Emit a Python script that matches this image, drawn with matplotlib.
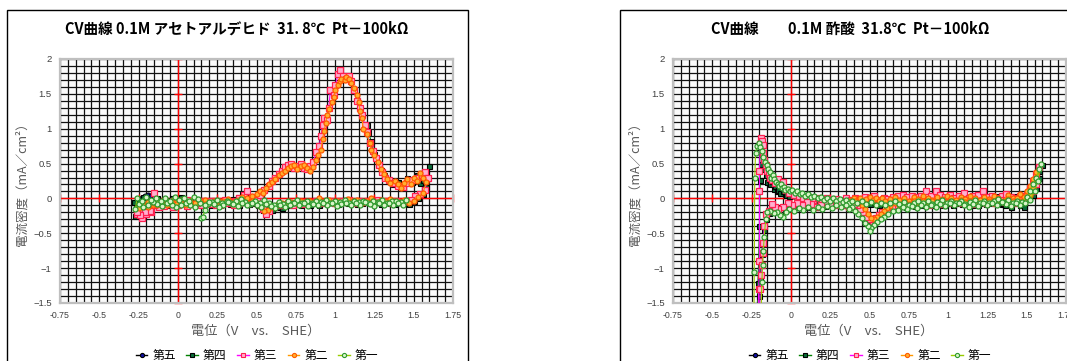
import matplotlib
matplotlib.use("Agg")
import matplotlib.pyplot as plt
from matplotlib.lines import Line2D
from matplotlib.patches import Rectangle
from matplotlib.ticker import MultipleLocator

plt.rcParams['font.family'] = ['Noto Sans CJK JP', 'DejaVu Sans']

# ---------------- data ----------------
series_names = ["第五", "第四", "第三", "第二", "第一"]
titles = ["CV曲線 0.1M アセトアルデヒド  31. 8℃  Pt－100kΩ",
          "CV曲線　　0.1M 酢酸  31.8℃  Pt－100kΩ"]
x_tick_labels = ["-0.75", "-0.5", "-0.25", "0", "0.25", "0.5", "0.75", "1", "1.25", "1.5", "1.75"]
x_tick_values = [-0.75, -0.5, -0.25, 0, 0.25, 0.5, 0.75, 1, 1.25, 1.5, 1.75]
y_tick_labels = ["−1.5", "−1", "−0.5", "0", "0.5", "1", "1.5", "2"]
y_tick_values = [-1.5, -1, -0.5, 0, 0.5, 1, 1.5, 2]
x_label = "電位（V　vs.　SHE）"
y_label = "電流密度（mA／cm²）"

# Left chart: acetaldehyde  (potential V, current mA/cm2)
acet_5 = [(-0.23, 0.01), (-0.21, 0.04), (-0.19, 0.05), (-0.17, 0.03), (-0.15, 0.02)]
acet_4 = [(1.20,1.05),(1.21,0.96),(1.23,0.82),(1.25,0.64),(1.27,0.50),(1.29,0.41),(1.31,0.33),(1.34,0.25),(1.37,0.21),(1.40,0.23),
          (1.43,0.17),(1.46,0.30),(1.49,0.24),(1.52,0.33),(1.54,0.22),(1.56,0.26),(1.58,0.38),(1.60,0.46),
          (1.58,0.16),(1.56,0.06),(1.53,0.00),(1.50,-0.04),(1.47,-0.08),(1.44,-0.07),(1.41,-0.05),(1.38,-0.08),(1.35,-0.06),(1.32,-0.04),
          (1.29,-0.08),(1.26,-0.05),(1.23,-0.07),(1.20,-0.03),(1.17,-0.06),(1.14,-0.08),(1.11,-0.05),(1.08,-0.07),(1.05,-0.04),(1.02,-0.08),
          (0.99,-0.06),(0.96,-0.04),(0.93,-0.07),(0.90,-0.09),(0.87,-0.05),(0.84,-0.10),(0.81,-0.07),(0.78,-0.09),(0.75,-0.06),(0.72,-0.10),
          (0.69,-0.08),(0.66,-0.14),(0.63,-0.12),(0.60,-0.16),(0.57,-0.13),(0.54,-0.17),(0.51,-0.10),(0.48,-0.06),(0.45,-0.08),(0.42,-0.05),
          (0.39,-0.09),(0.36,-0.06),(0.33,-0.08),(0.30,-0.04),(0.27,-0.07),(0.24,-0.05),(0.21,-0.09),(0.18,-0.06),(0.15,-0.08),(0.12,-0.04),
          (0.09,-0.07),(0.06,-0.10),(0.03,-0.05),(0.00,-0.08),(-0.03,-0.04),(-0.06,-0.09),(-0.09,-0.06),(-0.12,-0.10),(-0.15,-0.07),(-0.18,-0.12),
          (-0.21,-0.16),(-0.24,-0.22),(-0.27,-0.25),
          (-0.28,-0.05),(-0.25,-0.02),(-0.22,0.02),(-0.19,-0.03),(-0.16,-0.01),(-0.13,0.01),(-0.10,-0.03),(-0.07,-0.02),(-0.04,0.00),(-0.01,-0.04),
          (0.02,0.02),(0.05,-0.03),(0.08,-0.05),(0.11,-0.02),(0.14,-0.06),(0.17,-0.03),(0.20,-0.05),(0.23,-0.02),(0.26,-0.06),(0.29,-0.04),
          (0.32,-0.03),(0.35,-0.01),(0.38,0.02),(0.41,0.06),(0.43,0.05)]
acet_3 = [(-0.26,-0.22),(-0.23,-0.28),(-0.20,-0.22),(-0.17,-0.20),(-0.15,0.08),(-0.12,-0.05),(-0.09,-0.10),(-0.06,-0.08),(-0.03,-0.04),(0.00,-0.10),
          (0.03,-0.06),(0.06,-0.02),(0.09,-0.08),(0.12,-0.05),(0.15,-0.03),(0.18,-0.07),(0.21,-0.04),(0.24,-0.09),(0.27,-0.05),(0.30,-0.02),
          (0.33,-0.06),(0.36,-0.03),(0.39,0.00),(0.42,0.05),(0.44,0.10),(0.47,0.02),(0.50,-0.02),(0.52,0.05),(0.55,0.12),(0.58,0.18),
          (0.60,0.25),(0.62,0.30),(0.64,0.35),(0.66,0.40),(0.68,0.45),(0.70,0.48),(0.72,0.50),(0.74,0.44),(0.76,0.47),(0.78,0.50),
          (0.80,0.44),(0.82,0.42),(0.84,0.46),(0.86,0.52),(0.88,0.66),(0.90,0.75),(0.91,0.90),(0.92,1.05),(0.93,1.15),(0.95,1.12),
          (0.96,1.30),(0.97,1.55),(0.99,1.48),(1.00,1.62),(1.02,1.78),(1.03,1.84),(1.05,1.76),(1.07,1.72),(1.09,1.76),(1.10,1.68),
          (1.12,1.55),(1.14,1.40),(1.16,1.30),(1.17,1.20),(1.19,1.05),(1.20,0.95),(1.22,0.80),(1.24,0.68),(1.26,0.58),(1.28,0.48),
          (1.30,0.38),(1.32,0.30),(1.34,0.26),(1.37,0.22),(1.40,0.18),(1.43,0.16),(1.46,0.22),(1.49,0.26),(1.52,0.30),(1.55,0.34),
          (1.57,0.38),(1.59,0.30),
          (1.57,0.12),(1.54,0.06),(1.51,0.03),(1.48,-0.02),(1.45,-0.03),(1.42,-0.05),(1.39,-0.04),(1.36,-0.06),(1.33,-0.03),(1.30,-0.05),
          (1.27,-0.02),(1.24,-0.06),(1.21,-0.04),(1.18,-0.05),(1.15,-0.03),(1.12,-0.06),(1.09,-0.02),(1.06,-0.05),(1.03,-0.04),(1.00,-0.07),
          (0.97,-0.03),(0.94,-0.05),(0.91,-0.06),(0.88,-0.04),(0.85,-0.07),(0.82,-0.05),(0.79,-0.08),(0.76,-0.06),(0.73,-0.09),(0.70,-0.07),
          (0.67,-0.10),(0.64,-0.09),(0.61,-0.13),(0.58,-0.18),(0.56,-0.23),(0.54,-0.15),(0.51,-0.08),(0.48,-0.05),(0.45,-0.07),(0.42,-0.04),
          (0.39,-0.06),(0.36,-0.09),(0.33,-0.05),(0.30,-0.07),(0.27,-0.10),(0.24,-0.06),(0.21,-0.08),(0.18,-0.05),(0.15,-0.09),(0.12,-0.06),
          (0.09,-0.08),(0.06,-0.11),(0.03,-0.07),(0.00,-0.09),(-0.03,-0.12),(-0.06,-0.08),(-0.09,-0.11),(-0.12,-0.13),(-0.15,-0.10),(-0.18,-0.18),
          (-0.21,-0.20),(-0.24,-0.24),(-0.26,-0.20)]
acet_2 = [(-0.25,-0.12),(-0.22,-0.08),(-0.19,-0.05),(-0.16,-0.09),(-0.13,-0.04),(-0.10,-0.07),(-0.07,-0.03),(-0.04,-0.08),(-0.01,-0.05),(0.02,-0.02),
          (0.05,-0.07),(0.08,-0.04),(0.11,-0.09),(0.14,-0.05),(0.17,-0.02),(0.20,-0.06),(0.23,-0.03),(0.26,-0.07),(0.29,-0.04),(0.32,-0.01),
          (0.35,-0.05),(0.38,-0.02),(0.41,0.02),(0.44,0.00),(0.47,0.03),(0.50,0.06),(0.52,0.10),(0.54,0.08),(0.56,0.15),(0.58,0.20),
          (0.60,0.24),(0.62,0.28),(0.64,0.33),(0.66,0.36),(0.68,0.40),(0.70,0.43),(0.72,0.46),(0.74,0.48),(0.76,0.42),(0.78,0.46),
          (0.80,0.48),(0.82,0.43),(0.84,0.40),(0.86,0.45),(0.88,0.55),(0.89,0.62),(0.91,0.70),(0.92,0.85),(0.93,0.97),(0.94,1.08),
          (0.95,1.20),(0.96,1.28),(0.98,1.38),(0.99,1.45),(1.00,1.55),(1.02,1.62),(1.03,1.68),(1.04,1.72),(1.06,1.70),(1.07,1.74),
          (1.09,1.72),(1.10,1.66),(1.12,1.58),(1.14,1.48),(1.15,1.38),(1.16,1.25),(1.17,1.15),(1.18,1.00),(1.20,0.92),(1.22,0.80),
          (1.23,0.70),(1.25,0.62),(1.27,0.52),(1.29,0.42),(1.31,0.35),(1.33,0.28),(1.35,0.22),(1.38,0.25),(1.40,0.20),(1.42,0.15),
          (1.44,0.22),(1.46,0.28),(1.48,0.20),(1.50,0.30),(1.52,0.25),(1.54,0.36),(1.56,0.30),(1.58,0.24),
          (1.56,0.08),(1.53,0.02),(1.50,-0.03),(1.47,-0.06),(1.44,-0.02),(1.41,-0.05),(1.38,-0.03),(1.35,-0.01),(1.32,-0.04),(1.29,-0.02),
          (1.26,-0.05),(1.23,0.00),(1.20,-0.03),(1.17,-0.06),(1.14,-0.02),(1.11,-0.04),(1.08,-0.01),(1.05,-0.05),(1.02,-0.03),(0.99,-0.06),
          (0.96,-0.02),(0.93,-0.04),(0.90,0.00),(0.87,-0.05),(0.84,-0.03),(0.81,-0.06),(0.78,-0.04),(0.75,-0.07),(0.72,-0.05),(0.69,-0.08),
          (0.66,-0.06),(0.63,-0.10),(0.60,-0.12),(0.57,-0.16),(0.55,-0.18),(0.53,-0.12),(0.50,-0.07),(0.47,-0.04),(0.44,-0.06),(0.41,-0.03),
          (0.38,-0.05),(0.35,-0.08),(0.32,-0.04),(0.29,-0.06),(0.26,-0.03),(0.23,-0.07),(0.20,-0.05),(0.17,-0.08),(0.14,-0.04),(0.11,-0.07),
          (0.08,-0.05),(0.05,-0.09),(0.02,-0.06),(-0.01,-0.08),(-0.04,-0.05),(-0.07,-0.09),(-0.10,-0.06),(-0.13,-0.10),(-0.16,-0.07),(-0.19,-0.12),
          (-0.22,-0.10),(-0.25,-0.14)]
acet_1 = [(0.15,-0.28),(0.16,-0.27),(0.17,-0.16),(0.19,-0.08),(0.22,-0.05),(0.25,-0.02),(0.28,-0.06),(0.31,-0.03),(0.34,-0.07),(0.37,-0.04),
          (0.40,-0.01),(0.43,-0.05),(0.46,-0.08),(0.49,-0.04),(0.52,-0.06),(0.55,-0.02),(0.58,-0.07),(0.61,-0.10),(0.64,-0.05),(0.67,-0.08),
          (0.70,-0.04),(0.73,-0.06),(0.76,-0.02),(0.79,-0.07),(0.82,-0.04),(0.85,-0.06),(0.88,-0.03),(0.91,-0.05),(0.94,-0.02),(0.97,-0.06),
          (1.00,-0.03),(1.03,-0.05),(1.06,-0.02),(1.09,-0.06),(1.12,-0.03),(1.15,-0.05),(1.18,-0.04),(1.21,-0.06),(1.24,-0.03),(1.27,-0.05),
          (1.30,-0.02),(1.33,-0.06),(1.36,-0.04),(1.39,-0.03),(1.42,-0.05),(1.45,-0.02),
          (1.43,-0.09),(1.40,-0.06),(1.37,-0.10),(1.34,-0.07),(1.31,-0.09),(1.28,-0.06),(1.25,-0.11),(1.22,-0.08),(1.19,-0.05),(1.16,-0.09),
          (1.13,-0.07),(1.10,-0.10),(1.07,-0.06),(1.04,-0.08),(1.01,-0.11),(0.98,-0.07),(0.95,-0.09),(0.92,-0.06),(0.89,-0.10),(0.86,-0.08),
          (0.83,-0.11),(0.80,-0.07),(0.77,-0.09),(0.74,-0.06),(0.71,-0.10),(0.68,-0.13),(0.65,-0.09),(0.62,-0.14),(0.59,-0.11),(0.56,-0.08),
          (0.53,-0.12),(0.50,-0.09),(0.47,-0.06),(0.44,-0.10),(0.41,-0.07),(0.38,-0.11),(0.35,-0.08),(0.32,-0.05),(0.29,-0.09),(0.26,-0.12),
          (0.23,-0.08),(0.20,-0.05),(0.17,-0.10),(0.14,-0.07),(0.11,-0.12),(0.08,-0.09),(0.05,-0.06),(0.02,-0.10),(-0.01,-0.13),(-0.04,-0.09),
          (-0.07,-0.06),(-0.10,-0.11),(-0.13,-0.08),(-0.16,-0.05),(-0.19,-0.09),(-0.22,-0.12),(-0.25,-0.08),(-0.27,-0.15),
          (-0.26,0.00),(-0.23,-0.03),(-0.20,0.02),(-0.17,-0.02),(-0.14,0.01),(-0.11,-0.04),(-0.08,0.00),(-0.05,-0.03),(-0.02,0.02),(0.01,-0.02),
          (0.04,0.01),(0.07,-0.03),(0.10,0.02),(0.13,-0.01)]

# Right chart: acetic acid
acid_5 = [(-0.06,0.10),(-0.05,0.08),(-0.04,0.06),(-0.02,0.07),(-0.01,0.04),(0.01,0.05),(0.02,0.03),(0.04,0.03),(0.05,0.02)]
acid_4 = [(-0.215,-1.70),(-0.21,-1.22),(-0.205,-0.90),(-0.20,-0.40),(-0.195,0.27),(-0.19,0.50),(-0.185,0.64),(-0.18,0.55),(-0.17,0.42),(-0.16,0.33),
          (-0.15,0.23),(-0.14,0.28),(-0.13,0.20),(-0.12,0.25),(-0.11,0.14),(-0.10,0.18),(-0.09,0.10),(-0.08,0.12),(-0.07,0.08),(-0.05,0.10),
          (-0.03,0.05),(-0.01,0.03),(0.02,0.06),(0.05,0.00),(0.08,0.02),(0.11,-0.03),(0.14,0.01),(0.17,-0.04),(0.20,-0.02),(0.23,0.01),
          (0.26,-0.04),(0.29,-0.01),(0.32,-0.05),(0.35,-0.02),(0.38,-0.06),(0.41,-0.03),(0.44,-0.07),(0.47,-0.04),(0.50,-0.08),(0.53,-0.05),
          (0.56,-0.09),(0.59,-0.06),(0.62,-0.10),(0.65,-0.07),(0.68,-0.11),(0.71,-0.08),(0.74,-0.05),(0.77,-0.09),(0.80,-0.06),(0.83,-0.10),
          (0.86,-0.07),(0.89,-0.04),(0.92,-0.08),(0.95,-0.05),(0.98,-0.09),(1.01,-0.06),(1.04,-0.03),(1.07,-0.07),(1.10,-0.04),(1.13,-0.08),
          (1.16,-0.05),(1.19,-0.09),(1.22,-0.06),(1.25,-0.03),(1.28,-0.07),(1.31,0.03),(1.34,-0.08),(1.37,-0.05),(1.40,-0.12),(1.43,-0.06),
          (1.46,-0.10),(1.48,-0.13),(1.50,0.00),(1.52,0.12),(1.54,0.22),(1.56,0.30),(1.58,0.40),(1.60,0.48),
          (1.58,0.30),(1.56,0.15),(1.54,0.05),(1.51,0.02),(1.48,0.05),(1.45,-0.02),(1.42,0.04),(1.39,-0.03),(1.36,-0.10),(1.33,-0.06),
          (1.30,-0.02),(1.27,-0.05),(1.24,-0.08),(1.21,-0.04),(1.18,-0.07),(1.15,-0.09),(1.12,-0.05),(1.09,-0.08),(1.06,-0.06),(1.03,-0.09),
          (1.00,-0.07),(0.97,-0.10),(0.94,-0.06),(0.91,-0.09),(0.88,-0.07),(0.85,-0.10),(0.82,-0.08),(0.79,-0.11),(0.76,-0.09),(0.73,-0.12),
          (0.70,-0.10),(0.67,-0.13),(0.64,-0.14),(0.61,-0.18),(0.58,-0.22),(0.56,-0.26),(0.54,-0.30),(0.52,-0.35),(0.51,-0.38),(0.50,-0.36),
          (0.48,-0.30),(0.46,-0.24),(0.44,-0.18),(0.42,-0.14),(0.40,-0.10),(0.37,-0.07),(0.34,-0.09),(0.31,-0.06),(0.28,-0.10),(0.25,-0.07),
          (0.22,-0.11),(0.19,-0.08),(0.16,-0.12),(0.13,-0.09),(0.10,-0.13),(0.07,-0.10),(0.04,-0.12),(0.01,-0.09),(-0.02,-0.13),(-0.05,-0.11),
          (-0.08,-0.14),(-0.10,-0.16),(-0.12,-0.19),(-0.14,-0.21),(-0.16,-0.30),(-0.17,-0.45),(-0.18,-0.62),(-0.185,-0.80),(-0.19,-0.95),(-0.195,-1.15),
          (-0.20,-1.40),(-0.205,-1.75)]
acid_3 = [(-0.21,-1.70),(-0.205,-1.30),(-0.20,-0.90),(-0.20,0.10),(-0.20,0.40),(-0.195,0.78),(-0.19,0.86),(-0.185,0.82),(-0.18,0.76),(-0.175,0.65),
          (-0.17,0.55),(-0.16,0.48),(-0.15,0.40),(-0.14,0.35),(-0.13,0.30),(-0.12,0.27),(-0.10,0.22),(-0.08,0.28),(-0.07,0.20),(-0.05,0.24),
          (-0.03,0.12),(-0.01,0.08),(0.02,0.05),(0.05,0.03),(0.08,0.00),(0.11,0.02),(0.14,-0.02),(0.17,0.01),(0.20,-0.03),(0.23,0.00),
          (0.26,-0.04),(0.29,-0.01),(0.32,-0.03),(0.35,0.00),(0.38,-0.02),(0.41,0.01),(0.44,-0.01),(0.47,0.02),(0.50,0.00),(0.53,0.03),
          (0.56,-0.02),(0.59,0.01),(0.62,-0.01),(0.65,0.02),(0.68,0.04),(0.71,0.05),(0.74,0.02),(0.77,0.04),(0.80,0.02),(0.83,0.04),
          (0.86,0.10),(0.89,0.03),(0.92,0.10),(0.95,0.05),(0.98,0.02),(1.01,0.05),(1.04,0.01),(1.07,0.03),(1.10,0.08),(1.13,0.00),
          (1.16,0.03),(1.19,0.05),(1.22,0.10),(1.25,0.02),(1.28,0.04),(1.31,0.00),(1.34,0.03),(1.37,0.06),(1.40,0.02),(1.43,0.00),
          (1.46,0.04),(1.48,0.00),(1.50,0.05),(1.52,0.15),(1.54,0.25),(1.56,0.35),(1.58,0.45),
          (1.56,0.20),(1.54,0.10),(1.51,0.00),(1.48,-0.04),(1.45,-0.02),(1.42,-0.06),(1.39,-0.03),(1.36,-0.05),(1.33,-0.02),(1.30,-0.06),
          (1.27,-0.04),(1.24,-0.07),(1.21,-0.03),(1.18,-0.05),(1.15,-0.08),(1.12,-0.04),(1.09,-0.06),(1.06,-0.03),(1.03,-0.07),(1.00,-0.05),
          (0.97,-0.08),(0.94,-0.04),(0.91,-0.06),(0.88,-0.09),(0.85,-0.05),(0.82,-0.07),(0.79,-0.10),(0.76,-0.06),(0.73,-0.08),(0.70,-0.11),
          (0.67,-0.09),(0.64,-0.12),(0.61,-0.15),(0.58,-0.20),(0.56,-0.24),(0.54,-0.28),(0.52,-0.32),(0.50,-0.30),(0.48,-0.26),(0.46,-0.20),
          (0.44,-0.15),(0.42,-0.10),(0.40,-0.08),(0.37,-0.12),(0.34,-0.09),(0.31,-0.06),(0.28,-0.10),(0.25,-0.08),(0.22,-0.05),(0.19,-0.09),
          (0.16,-0.12),(0.13,-0.08),(0.10,-0.05),(0.07,-0.09),(0.04,-0.06),(0.01,-0.10),(-0.02,-0.07),(-0.05,-0.12),(-0.08,-0.15),(-0.10,-0.12),
          (-0.12,-0.08),(-0.14,-0.18),(-0.16,-0.22),(-0.17,-0.40),(-0.175,-0.64),(-0.18,-0.78),(-0.185,-0.95),(-0.19,-1.10),(-0.195,-1.30),(-0.20,-1.60)]
acid_2 = [(0.38,-0.02),(0.40,0.01),(0.42,-0.03),(0.44,0.00),(0.46,-0.04),(0.48,-0.01),(0.50,0.02),(0.52,-0.02),(0.54,0.01),(0.56,-0.03),
          (0.58,0.00),(0.60,-0.04),(0.63,-0.01),(0.66,0.02),(0.69,-0.02),(0.72,0.01),(0.75,-0.03),(0.78,0.02),(0.81,-0.01),(0.84,0.03),
          (0.87,0.00),(0.90,-0.02),(0.93,0.02),(0.96,-0.01),(0.99,0.03),(1.02,0.00),(1.05,-0.02),(1.08,0.02),(1.11,-0.01),(1.14,0.03),
          (1.17,0.00),(1.20,-0.02),(1.23,0.02),(1.26,-0.01),(1.29,0.03),(1.32,0.00),(1.35,-0.03),(1.38,0.05),(1.41,0.00),(1.44,-0.02),
          (1.46,0.06),(1.48,0.02),(1.50,0.10),(1.52,0.18),(1.54,0.28),(1.56,0.38),
          (1.54,0.15),(1.52,0.05),(1.50,0.02),(1.47,-0.03),(1.44,0.01),(1.41,-0.04),(1.38,-0.01),(1.35,-0.05),(1.32,-0.02),(1.29,-0.06),
          (1.26,-0.03),(1.23,-0.05),(1.20,-0.02),(1.17,-0.06),(1.14,-0.03),(1.11,-0.05),(1.08,-0.02),(1.05,-0.06),(1.02,-0.03),(0.99,-0.05),
          (0.96,-0.02),(0.93,-0.06),(0.90,-0.04),(0.87,-0.07),(0.84,-0.03),(0.81,-0.06),(0.78,-0.04),(0.75,-0.08),(0.72,-0.05),(0.69,-0.09),
          (0.66,-0.07),(0.63,-0.11),(0.61,-0.14),(0.59,-0.18),(0.57,-0.22),(0.55,-0.26),(0.53,-0.30),(0.51,-0.28),(0.49,-0.22),(0.47,-0.15),
          (0.45,-0.10),(0.43,-0.06),(0.41,-0.03)]
acid_1 = [(-0.235,-1.70),(-0.233,-1.05),(-0.23,0.30),(-0.225,0.65),(-0.215,0.75),(-0.205,0.80),(-0.195,0.74),(-0.185,0.68),(-0.175,0.60),(-0.165,0.52),
          (-0.155,0.48),(-0.145,0.42),(-0.135,0.38),(-0.125,0.30),(-0.115,0.34),(-0.105,0.28),(-0.095,0.24),(-0.085,0.21),(-0.075,0.18),(-0.065,0.20),
          (-0.055,0.15),(-0.045,0.17),(-0.035,0.12),(-0.02,0.14),(-0.005,0.10),(0.01,0.12),(0.025,0.08),(0.04,0.10),(0.055,0.06),(0.07,0.08),
          (0.09,0.04),(0.11,0.06),(0.13,0.02),(0.15,0.04),(0.17,0.00),(0.19,0.02),(0.21,-0.02),(0.23,0.01),(0.25,-0.03),(0.27,0.00),
          (0.29,-0.04),(0.31,-0.01),(0.33,-0.05),(0.35,-0.02),(0.37,-0.06),(0.39,-0.03),(0.42,-0.07),(0.45,-0.04),(0.48,-0.08),(0.51,-0.05),
          (0.54,-0.09),(0.57,-0.06),(0.60,-0.10),(0.63,-0.07),(0.66,-0.04),(0.69,-0.08),(0.72,-0.05),(0.75,-0.09),(0.78,-0.06),(0.81,-0.03),
          (0.84,-0.07),(0.87,-0.04),(0.90,-0.08),(0.93,-0.05),(0.96,-0.02),(0.99,-0.06),(1.02,-0.03),(1.05,-0.07),(1.08,-0.04),(1.11,-0.08),
          (1.14,-0.05),(1.17,-0.02),(1.20,-0.06),(1.23,-0.03),(1.26,-0.07),(1.29,-0.04),(1.32,-0.01),(1.35,-0.05),(1.38,-0.02),(1.41,-0.06),
          (1.44,-0.03),(1.47,-0.05),(1.50,0.02),(1.52,0.10),(1.54,0.20),(1.56,0.30),(1.58,0.42),(1.59,0.50),
          (1.57,0.25),(1.55,0.10),(1.52,-0.02),(1.49,-0.06),(1.46,-0.10),(1.43,-0.07),(1.40,-0.11),(1.37,-0.08),(1.34,-0.05),(1.31,-0.09),
          (1.28,-0.06),(1.25,-0.10),(1.22,-0.07),(1.19,-0.11),(1.16,-0.08),(1.13,-0.12),(1.10,-0.09),(1.07,-0.06),(1.04,-0.10),(1.01,-0.07),
          (0.98,-0.11),(0.95,-0.08),(0.92,-0.12),(0.89,-0.09),(0.86,-0.13),(0.83,-0.10),(0.80,-0.14),(0.77,-0.11),(0.74,-0.15),(0.71,-0.12),
          (0.68,-0.16),(0.65,-0.18),(0.62,-0.22),(0.59,-0.26),(0.57,-0.30),(0.55,-0.34),(0.53,-0.38),(0.51,-0.42),(0.50,-0.47),(0.49,-0.40),
          (0.47,-0.35),(0.45,-0.28),(0.43,-0.22),(0.41,-0.18),(0.39,-0.12),(0.37,-0.15),(0.35,-0.10),(0.32,-0.13),(0.29,-0.09),(0.26,-0.14),
          (0.23,-0.11),(0.20,-0.15),(0.17,-0.12),(0.14,-0.16),(0.11,-0.13),(0.08,-0.17),(0.05,-0.14),(0.02,-0.18),(-0.01,-0.15),(-0.03,-0.20),
          (-0.05,-0.27),(-0.07,-0.24),(-0.09,-0.19),(-0.11,-0.21),(-0.13,-0.18),(-0.15,-0.20),(-0.16,-0.30),(-0.17,-0.55),(-0.175,-0.75),(-0.18,-0.95),
          (-0.185,-1.20),(-0.19,-1.70)]

left_series = [acet_5, acet_4, acet_3, acet_2, acet_1]
right_series = [acid_5, acid_4, acid_3, acid_2, acid_1]

# ---------------- styles ----------------
styles = [
    dict(color="black", marker="o", mfc="#1010A0", mec="black", ms=3.6, mew=0.7),
    dict(color="#008000", marker="s", mfc="#0B6B3A", mec="black", ms=3.6, mew=0.8),
    dict(color="#FF00FF", marker="s", mfc="#FFB0D0", mec="#FF2050", ms=3.8, mew=0.9),
    dict(color="#FF9900", marker="o", mfc="#FFB030", mec="#FF5A00", ms=3.6, mew=0.9),
    dict(color="#99CC00", marker="o", mfc="#D8F5C8", mec="#2E9A2E", ms=3.6, mew=0.9),
]

W, H = 1067, 361
fig = plt.figure(figsize=(W / 100, H / 100), dpi=100)
fig.patch.set_facecolor("white")


def rect(x0, x1, y0, y1):
    return [x0 / W, 1 - y1 / H, (x1 - x0) / W, (y1 - y0) / H]


# chart frames
fig.patches.append(Rectangle((7 / W, -0.05), 461 / W, (351 / H) + 0.05, transform=fig.transFigure,
                             fill=False, edgecolor="black", lw=1.0))
fig.patches.append(Rectangle((620 / W, -0.05), 460 / W, (351 / H) + 0.05, transform=fig.transFigure,
                             fill=False, edgecolor="black", lw=1.0))

panels = [
    (rect(60, 453, 59, 303), left_series, titles[0], 237, 256, 257),
    (rect(673, 1066, 59, 303), right_series, titles[1], 850, 869, 870),
]

for pos, series, title, tx, xlx, lgx in panels:
    ax = fig.add_axes(pos)
    ax.set_facecolor("#FAFAFA")
    ax.set_xlim(-0.75, 1.75)
    ax.set_ylim(-1.5, 2.0)
    ax.xaxis.set_major_locator(MultipleLocator(0.25))
    ax.xaxis.set_minor_locator(MultipleLocator(0.05))
    ax.yaxis.set_major_locator(MultipleLocator(0.5))
    ax.yaxis.set_minor_locator(MultipleLocator(0.1))
    ax.set_xticks(x_tick_values)
    ax.set_xticklabels(x_tick_labels)
    ax.set_yticks(y_tick_values)
    ax.set_yticklabels(y_tick_labels)
    ax.tick_params(which="both", length=0)
    ax.tick_params(axis="x", pad=6, labelsize=6.3, labelcolor="#404040")
    ax.tick_params(axis="y", pad=6, labelsize=6.8, labelcolor="#404040")
    for lab in ax.get_xticklabels() + ax.get_yticklabels():
        lab.set_family(["Liberation Sans", "DejaVu Sans"])
    ax.grid(which="both", color="#111111", lw=0.9)
    ax.set_axisbelow(True)
    for s in ax.spines.values():
        s.set_color("#BFBFBF")
        s.set_linewidth(1.6)

    # red axes through the origin with tick marks
    ax.axhline(0, color="red", lw=1.0, zorder=1.5)
    ax.axvline(0, color="red", lw=1.0, zorder=1.5)
    ax.plot(x_tick_values, [0] * len(x_tick_values), ls="none", marker="|", ms=6, mew=1.0,
            color="red", zorder=1.6, clip_on=False)
    ax.plot([0] * len(y_tick_values), y_tick_values, ls="none", marker="_", ms=6, mew=1.0,
            color="red", zorder=1.6, clip_on=False)

    for data, st in zip(series, styles):
        xs = [p[0] for p in data]
        ys = [p[1] for p in data]
        ax.plot(xs, ys, lw=0.8, zorder=3, **st)

    fig.text(tx / W, 1 - 29 / H, title, ha="center", va="center", fontsize=10.5,
             fontweight="bold", color="black")
    fig.text(xlx / W, 1 - 331 / H, x_label, ha="center", va="center", fontsize=9.5, color="#595959")
    handles = [Line2D([0], [0], lw=1.0, color=st["color"], marker=st["marker"], mfc=st["mfc"],
                      mec=st["mec"], ms=3.0, mew=0.8) for st in styles]
    fig.legend(handles, series_names, loc="center", bbox_to_anchor=(lgx / W, 1 - 356 / H),
               ncol=5, frameon=False, fontsize=8.5, handlelength=1.0, handletextpad=0.4,
               columnspacing=0.9, borderpad=0)

fig.text(22 / W, 1 - 181 / H, y_label, rotation=90, ha="center", va="center", fontsize=9, color="#595959")
fig.text(635 / W, 1 - 181 / H, y_label, rotation=90, ha="center", va="center", fontsize=9, color="#595959")

fig.savefig("out.png", dpi=100, facecolor="white")
